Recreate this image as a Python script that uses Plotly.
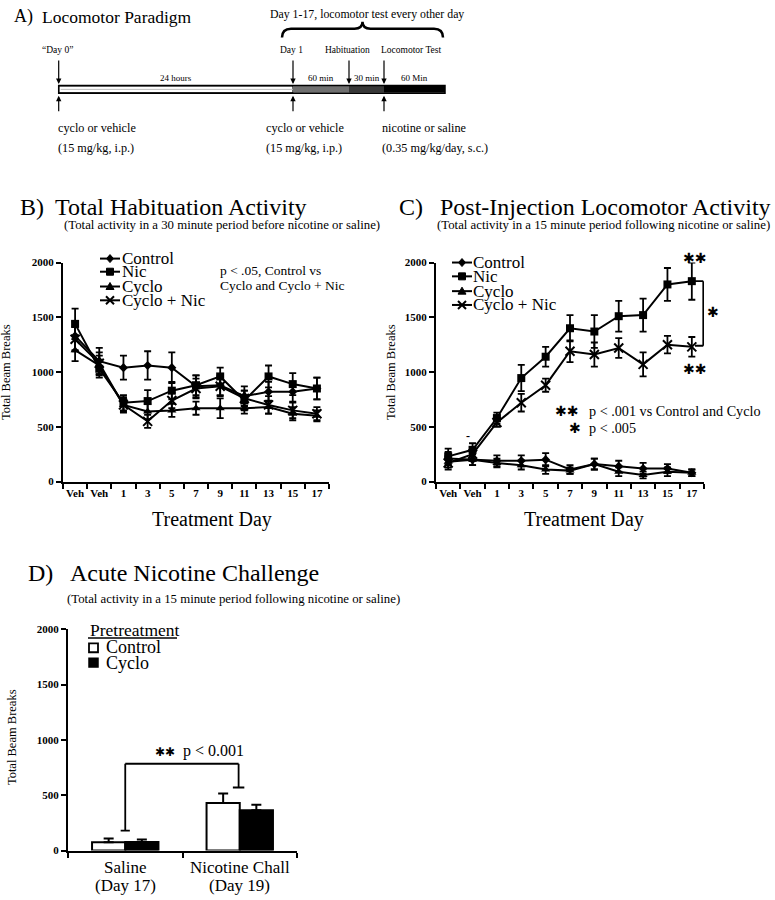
import plotly.graph_objects as go

W, H = 775, 900
SERIF = "Liberation Serif, Times New Roman, serif"
STAR = "DejaVu Sans"

# ---------------- data ----------------
day_labels = ["Veh", "Veh", "1", "3", "5", "7", "9", "11", "13", "15", "17"]
series_names = ["Control", "Nic", "Cyclo", "Cyclo + Nic"]
series_symbols = ["diamond", "square", "triangle-up", "x-thin"]
series_sizes = [7, 8, 8, 9]

# B) Total habituation activity
hab_control = [1330, 1100, 1040, 1060, 1040, 870, 880, 780, 820, 820, 850]
hab_nic = [1440, 1030, 720, 735, 830, 880, 960, 740, 960, 890, 850]
hab_cyclo = [1200, 1060, 700, 640, 650, 670, 670, 670, 680, 620, 600]
hab_cyclonic = [1300, 1080, 700, 550, 740, 850, 870, 760, 700, 650, 620]
hab_control_err = [130, 120, 110, 130, 140, 100, 90, 90, 90, 90, 100]
hab_nic_err = [140, 80, 70, 100, 80, 90, 80, 90, 100, 100, 100]
hab_cyclo_err = [100, 90, 60, 70, 60, 60, 90, 50, 60, 60, 50]
hab_cyclonic_err = [110, 100, 70, 60, 70, 90, 90, 70, 80, 70, 60]

# C) Post-injection locomotor activity
loc_control = [210, 200, 190, 190, 200, 110, 160, 140, 120, 120, 80]
loc_nic = [230, 290, 580, 945, 1140, 1400, 1370, 1510, 1520, 1800, 1830]
loc_cyclo = [180, 200, 170, 150, 110, 100, 160, 90, 60, 90, 80]
loc_cyclonic = [170, 250, 540, 720, 880, 1190, 1160, 1220, 1070, 1250, 1230]
loc_control_err = [60, 50, 50, 50, 60, 40, 50, 50, 50, 40, 30]
loc_nic_err = [70, 60, 50, 120, 90, 120, 150, 140, 150, 150, 170]
loc_cyclo_err = [50, 50, 40, 40, 40, 30, 50, 40, 30, 40, 30]
loc_cyclonic_err = [60, 60, 40, 80, 60, 100, 110, 90, 110, 80, 90]

# D) Acute nicotine challenge
chall_groups_line1 = ["Saline", "Nicotine Chall"]
chall_groups_line2 = ["(Day 17)", "(Day 19)"]
chall_control = [75, 430]
chall_control_err = [35, 85]
chall_cyclo = [78, 365]
chall_cyclo_err = [22, 50]
bracket_D = dict(left_y=180, top_y=785, right_y=570)
bracket_C = dict(y_top=1830, y_bottom=1240)

# A) paradigm schematic (schematic units)
A_events = ["\u201cDay 0\u201d", "Day 1", "Habituation", "Locomotor Test"]
A_event_pos = [58.7, 293, 349, 384]
A_event_label_x = [57, 291, 347, 411]
A_bar_end = 445
A_segments = ["24 hours", "60 min", "30 min", "60 Min"]
A_seg_colors = ["white", "#707070", "#383838", "black"]
A_inj_event = [0, 1, 3]
A_inj_line1 = ["cyclo or vehicle", "cyclo or vehicle", "nicotine or saline"]
A_inj_line2 = ["(15 mg/kg, i.p.)", "(15 mg/kg, i.p.)", "(0.35 mg/kg/day, s.c.)"]
A_inj_x = [56, 264, 380]


def fx(p):
    return p / W


def fy(p):
    return 1 - p / H


fig = go.Figure()
xs = list(range(len(day_labels)))

panels = [
    ("x", "y", [hab_control, hab_nic, hab_cyclo, hab_cyclonic],
     [hab_control_err, hab_nic_err, hab_cyclo_err, hab_cyclonic_err]),
    ("x2", "y2", [loc_control, loc_nic, loc_cyclo, loc_cyclonic],
     [loc_control_err, loc_nic_err, loc_cyclo_err, loc_cyclonic_err]),
]
for xa, ya, vals, errs in panels:
    for name, sym, sz, v, e in zip(series_names, series_symbols, series_sizes, vals, errs):
        fig.add_trace(go.Scatter(
            x=xs, y=v, name=name, mode="lines+markers", xaxis=xa, yaxis=ya,
            line=dict(color="black", width=2),
            marker=dict(symbol=sym, size=sz, color="black",
                        line=dict(color="black", width=2 if sym == "x-thin" else 0)),
            error_y=dict(type="data", array=e, color="black", thickness=1.8, width=3.5),
            showlegend=False, cliponaxis=False))

fig.add_trace(go.Bar(
    x=[0, 1], y=chall_control, name="Control", xaxis="x3", yaxis="y3",
    marker=dict(color="white", line=dict(color="black", width=2)),
    error_y=dict(type="data", symmetric=False, array=chall_control_err,
                 arrayminus=[0, 0], color="black", thickness=2, width=5),
    showlegend=False))
fig.add_trace(go.Bar(
    x=[0, 1], y=chall_cyclo, name="Cyclo", xaxis="x3", yaxis="y3",
    marker=dict(color="black", line=dict(color="black", width=2)),
    error_y=dict(type="data", symmetric=False, array=chall_cyclo_err,
                 arrayminus=[0, 0], color="black", thickness=2, width=5),
    showlegend=False))

tickfont = dict(family=SERIF, size=11, color="black", weight="bold")


def xcat(domain, anchor, n, labels=None):
    d = dict(domain=domain, anchor=anchor, range=[-0.5, n - 0.5],
             tickmode="array", tickvals=list(range(n)),
             ticks="", showline=True, linecolor="black", linewidth=2,
             showgrid=False, zeroline=False, tickfont=tickfont,
             minor=dict(tickmode="array", tickvals=[i - 0.5 for i in range(n + 1)],
                        ticks="outside", ticklen=5, tickwidth=2, tickcolor="black",
                        showgrid=False))
    if labels is None:
        d["showticklabels"] = False
    else:
        d["ticktext"] = labels
    return d


def yax(domain, anchor):
    return dict(domain=domain, anchor=anchor, range=[0, 2000],
                tickmode="array", tickvals=[0, 500, 1000, 1500, 2000],
                ticks="outside", ticklen=5, tickwidth=2, tickcolor="black",
                showline=True, linecolor="black", linewidth=2,
                showgrid=False, zeroline=False, tickfont=tickfont)


yB = [fy(482), fy(260)]
fig.update_layout(
    width=W, height=H, margin=dict(l=0, r=0, t=0, b=0),
    paper_bgcolor="white", plot_bgcolor="white",
    showlegend=False, barmode="group", bargap=0.42, bargroupgap=0,
    xaxis=xcat([fx(63), fx(329)], "y", 11, day_labels),
    yaxis=yax(yB, "x"),
    xaxis2=xcat([fx(436), fx(704)], "y2", 11, day_labels),
    yaxis2=yax(yB, "x2"),
    xaxis3=xcat([fx(68), fx(297)], "y3", 2, None),
    yaxis3=yax([fy(856), fy(631.7)], "x3"),
    xaxis4=dict(domain=[0, 1], anchor="y4", range=[0, W], visible=False),
    yaxis4=dict(domain=[fy(170), 1], anchor="x4", range=[170, 0], visible=False),
)

ann = []
shapes = []


def txt(text, x, y, size, xanchor="center", yanchor="middle", family=SERIF, **kw):
    d = dict(text=text, x=fx(x), y=fy(y), xref="paper", yref="paper", showarrow=False,
             font=dict(family=family, size=size, color="black"),
             xanchor=xanchor, yanchor=yanchor)
    d.update(kw)
    return d


# ---------- titles ----------
ann += [
    txt("A)", 12, 11, 18, "left"), txt("Locomotor Paradigm", 40, 11, 17.5, "left"),
    txt("B)", 18, 204, 24, "left"), txt("Total Habituation Activity", 53, 204, 24, "left"),
    txt("(Total activity in a 30 minute period before nicotine or saline)", 62, 222, 12.8, "left"),
    txt("C)", 397, 204, 24, "left"), txt("Post-Injection Locomotor Activity", 438, 204, 24, "left"),
    txt("(Total activity in a 15 minute period following nicotine or saline)", 435, 222, 12.8, "left"),
    txt("D)", 26, 575, 24, "left"), txt("Acute Nicotine Challenge", 68, 575, 24, "left"),
    txt("(Total activity in a 15 minute period following nicotine or saline)", 65, 601, 12.8, "left"),
]

# ---------- axis titles ----------
ann += [
    txt("Total Beam Breaks", 6, 371, 12.5, textangle=-90),
    txt("Total Beam Breaks", 391, 371, 12.5, textangle=-90),
    txt("Total Beam Breaks", 12, 741, 12.5, textangle=-90),
    txt("Treatment Day", 212, 520, 20),
    txt("Treatment Day", 584, 520, 20),
]

# ---------- manual legends for B and C ----------
key_paths = {
    "diamond": ("M0,4L3.5,0L0,-4L-3.5,0Z", True),
    "square": ("M-3.5,-3.5L3.5,-3.5L3.5,3.5L-3.5,3.5Z", True),
    "triangle-up": ("M-4,-3L4,-3L0,4Z", True),
    "x-thin": ("M-4,-4L4,4M-4,4L4,-4", False),
}


def legend(xc, ys, textx):
    for name, sym, y in zip(series_names, series_symbols, ys):
        shapes.append(dict(type="line", xref="paper", yref="paper",
                           x0=fx(xc - 10), x1=fx(xc + 10), y0=fy(y), y1=fy(y),
                           line=dict(color="black", width=2)))
        p, filled = key_paths[sym]
        shapes.append(dict(type="path", xref="paper", yref="paper",
                           xsizemode="pixel", ysizemode="pixel",
                           xanchor=fx(xc), yanchor=fy(y), path=p,
                           fillcolor="black" if filled else "rgba(0,0,0,0)",
                           line=dict(color="black", width=1 if filled else 2)))
        ann.append(txt(name, textx, y, 17, "left"))


legend(110, [256, 269.3, 284.3, 298.3], 120)
legend(462, [260, 274, 289, 303], 471)

# ---------- panel B/C notes ----------
ann += [
    txt("p < .05, Control vs", 218, 268, 13.5, "left"),
    txt("Cyclo and Cyclo + Nic", 218, 283, 13.5, "left"),
    txt("\u2731\u2731", 566.5, 410, 14, family=STAR),
    txt("p < .001 vs Control and Cyclo", 587, 410, 14.2, "left"),
    txt("\u2731", 575, 428, 14, family=STAR),
    txt("p < .005", 587, 428, 14.2, "left"),
    txt("\u2731\u2731", 694.5, 255, 14, family=STAR),
    txt("\u2731\u2731", 694.5, 368, 14, family=STAR),
    txt("\u2731", 713, 310, 14, family=STAR),
    txt("-", 468, 436, 12, font=dict(family=SERIF, size=12, color="black", weight="bold")),
]

# bracket in C (Nic vs Cyclo + Nic, day 17)
last = len(day_labels) - 1
for yv in (bracket_C["y_top"], bracket_C["y_bottom"]):
    shapes.append(dict(type="line", xref="x2", yref="y2", x0=last + 0.13, x1=last + 0.47,
                       y0=yv, y1=yv, line=dict(color="black", width=1.8)))
shapes.append(dict(type="line", xref="x2", yref="y2", x0=last + 0.47, x1=last + 0.47,
                   y0=bracket_C["y_top"], y1=bracket_C["y_bottom"],
                   line=dict(color="black", width=1.8)))

# ---------- panel D ----------
for i, (l1, l2) in enumerate(zip(chall_groups_line1, chall_groups_line2)):
    ann.append(dict(text=l1, x=i, y=fy(873), xref="x3", yref="paper", showarrow=False,
                    font=dict(family=SERIF, size=17, color="black"), yanchor="middle"))
    ann.append(dict(text=l2, x=i, y=fy(891), xref="x3", yref="paper", showarrow=False,
                    font=dict(family=SERIF, size=17, color="black"), yanchor="middle"))

ann += [
    txt("Pretreatment", 88, 632, 17.5, "left"),
    txt("Control", 104, 650, 18, "left"),
    txt("Cyclo", 104, 666, 18, "left"),
    txt("\u2731\u2731", 165, 756, 12, family=STAR),
    txt("p < 0.001", 181, 755, 16, "left"),
]
shapes += [
    dict(type="line", xref="paper", yref="paper", x0=fx(88), x1=fx(177), y0=fy(640.5), y1=fy(640.5),
         line=dict(color="black", width=1.5)),
    dict(type="rect", xref="paper", yref="paper", x0=fx(89), x1=fx(98), y0=fy(646), y1=fy(655),
         fillcolor="white", line=dict(color="black", width=1.8)),
    dict(type="rect", xref="paper", yref="paper", x0=fx(89), x1=fx(98), y0=fy(661), y1=fy(670),
         fillcolor="black", line=dict(color="black", width=1.5)),
]
bl = dict(color="black", width=1.8)
shapes += [
    dict(type="line", xref="x3", yref="y3", x0=-0.04, x1=0.04, y0=bracket_D["left_y"], y1=bracket_D["left_y"], line=bl),
    dict(type="line", xref="x3", yref="y3", x0=0, x1=0, y0=bracket_D["left_y"], y1=bracket_D["top_y"], line=bl),
    dict(type="line", xref="x3", yref="y3", x0=0, x1=0.99, y0=bracket_D["top_y"], y1=bracket_D["top_y"], line=bl),
    dict(type="line", xref="x3", yref="y3", x0=0.99, x1=0.99, y0=bracket_D["top_y"], y1=bracket_D["right_y"], line=bl),
    dict(type="line", xref="x3", yref="y3", x0=0.94, x1=1.04, y0=bracket_D["right_y"], y1=bracket_D["right_y"], line=bl),
]

# ---------- panel A schematic ----------
seg_edges = A_event_pos + [A_bar_end]
for i, (lab, col) in enumerate(zip(A_segments, A_seg_colors)):
    x0, x1 = seg_edges[i], seg_edges[i + 1]
    shapes.append(dict(type="rect", xref="x4", yref="y4", x0=x0, x1=x1, y0=81, y1=88,
                       fillcolor=col, line=dict(color="black", width=1.2 if i == 0 else 0)))
    ann.append(dict(text=lab, x=(x0 + x1) / 2, y=73, xref="x4", yref="y4", showarrow=False,
                    font=dict(family=SERIF, size=9, color="black")))
shapes.append(dict(type="line", xref="x4", yref="y4", x0=seg_edges[0] + 2, x1=seg_edges[1], y0=84.5, y1=84.5,
                   line=dict(color="#bbbbbb", width=1)))
shapes.append(dict(type="rect", xref="x4", yref="y4", x0=seg_edges[0], x1=A_bar_end, y0=80.5, y1=88.5,
                   line=dict(color="black", width=1.5)))

for ev, pos, lx in zip(A_events, A_event_pos, A_event_label_x):
    ann.append(dict(text="", x=pos, y=79, xref="x4", yref="y4", showarrow=True,
                    ax=0, ay=-25, arrowhead=2, arrowsize=0.9, arrowwidth=1.2, arrowcolor="black"))
    ann.append(dict(text=ev, x=lx, y=45, xref="x4", yref="y4", showarrow=False,
                    font=dict(family=SERIF, size=9.5, color="black")))

for k, ei in enumerate(A_inj_event):
    pos = A_event_pos[ei]
    ann.append(dict(text="", x=pos, y=91, xref="x4", yref="y4", showarrow=True,
                    ax=0, ay=17, arrowhead=2, arrowsize=0.9, arrowwidth=1.2, arrowcolor="black"))
    ann.append(dict(text=A_inj_line1[k], x=A_inj_x[k], y=124, xref="x4", yref="y4", showarrow=False,
                    xanchor="left", font=dict(family=SERIF, size=12.2, color="black")))
    ann.append(dict(text=A_inj_line2[k], x=A_inj_x[k], y=144, xref="x4", yref="y4", showarrow=False,
                    xanchor="left", font=dict(family=SERIF, size=12.2, color="black")))

brace_l, brace_r = 282, 443
brace_c = (brace_l + brace_r) / 2
shapes.append(dict(type="path", xref="x4", yref="y4",
                   path=(f"M{brace_l},32 Q{brace_l},23 {brace_l + 9},23 L{brace_c - 8},23 "
                         f"Q{brace_c},23 {brace_c},16 Q{brace_c},23 {brace_c + 8},23 "
                         f"L{brace_r - 9},23 Q{brace_r},23 {brace_r},32"),
                   line=dict(color="black", width=2.5)))
ann.append(dict(text="Day 1-17, locomotor test every other day", x=brace_c + 4, y=8,
                xref="x4", yref="y4", showarrow=False,
                font=dict(family=SERIF, size=11.8, color="black")))

fig.update_layout(annotations=ann, shapes=shapes)
fig.write_html("out.html", config={"displayModeBar": False},
               post_script="document.body.style.margin='0';document.body.style.overflow='hidden';")
